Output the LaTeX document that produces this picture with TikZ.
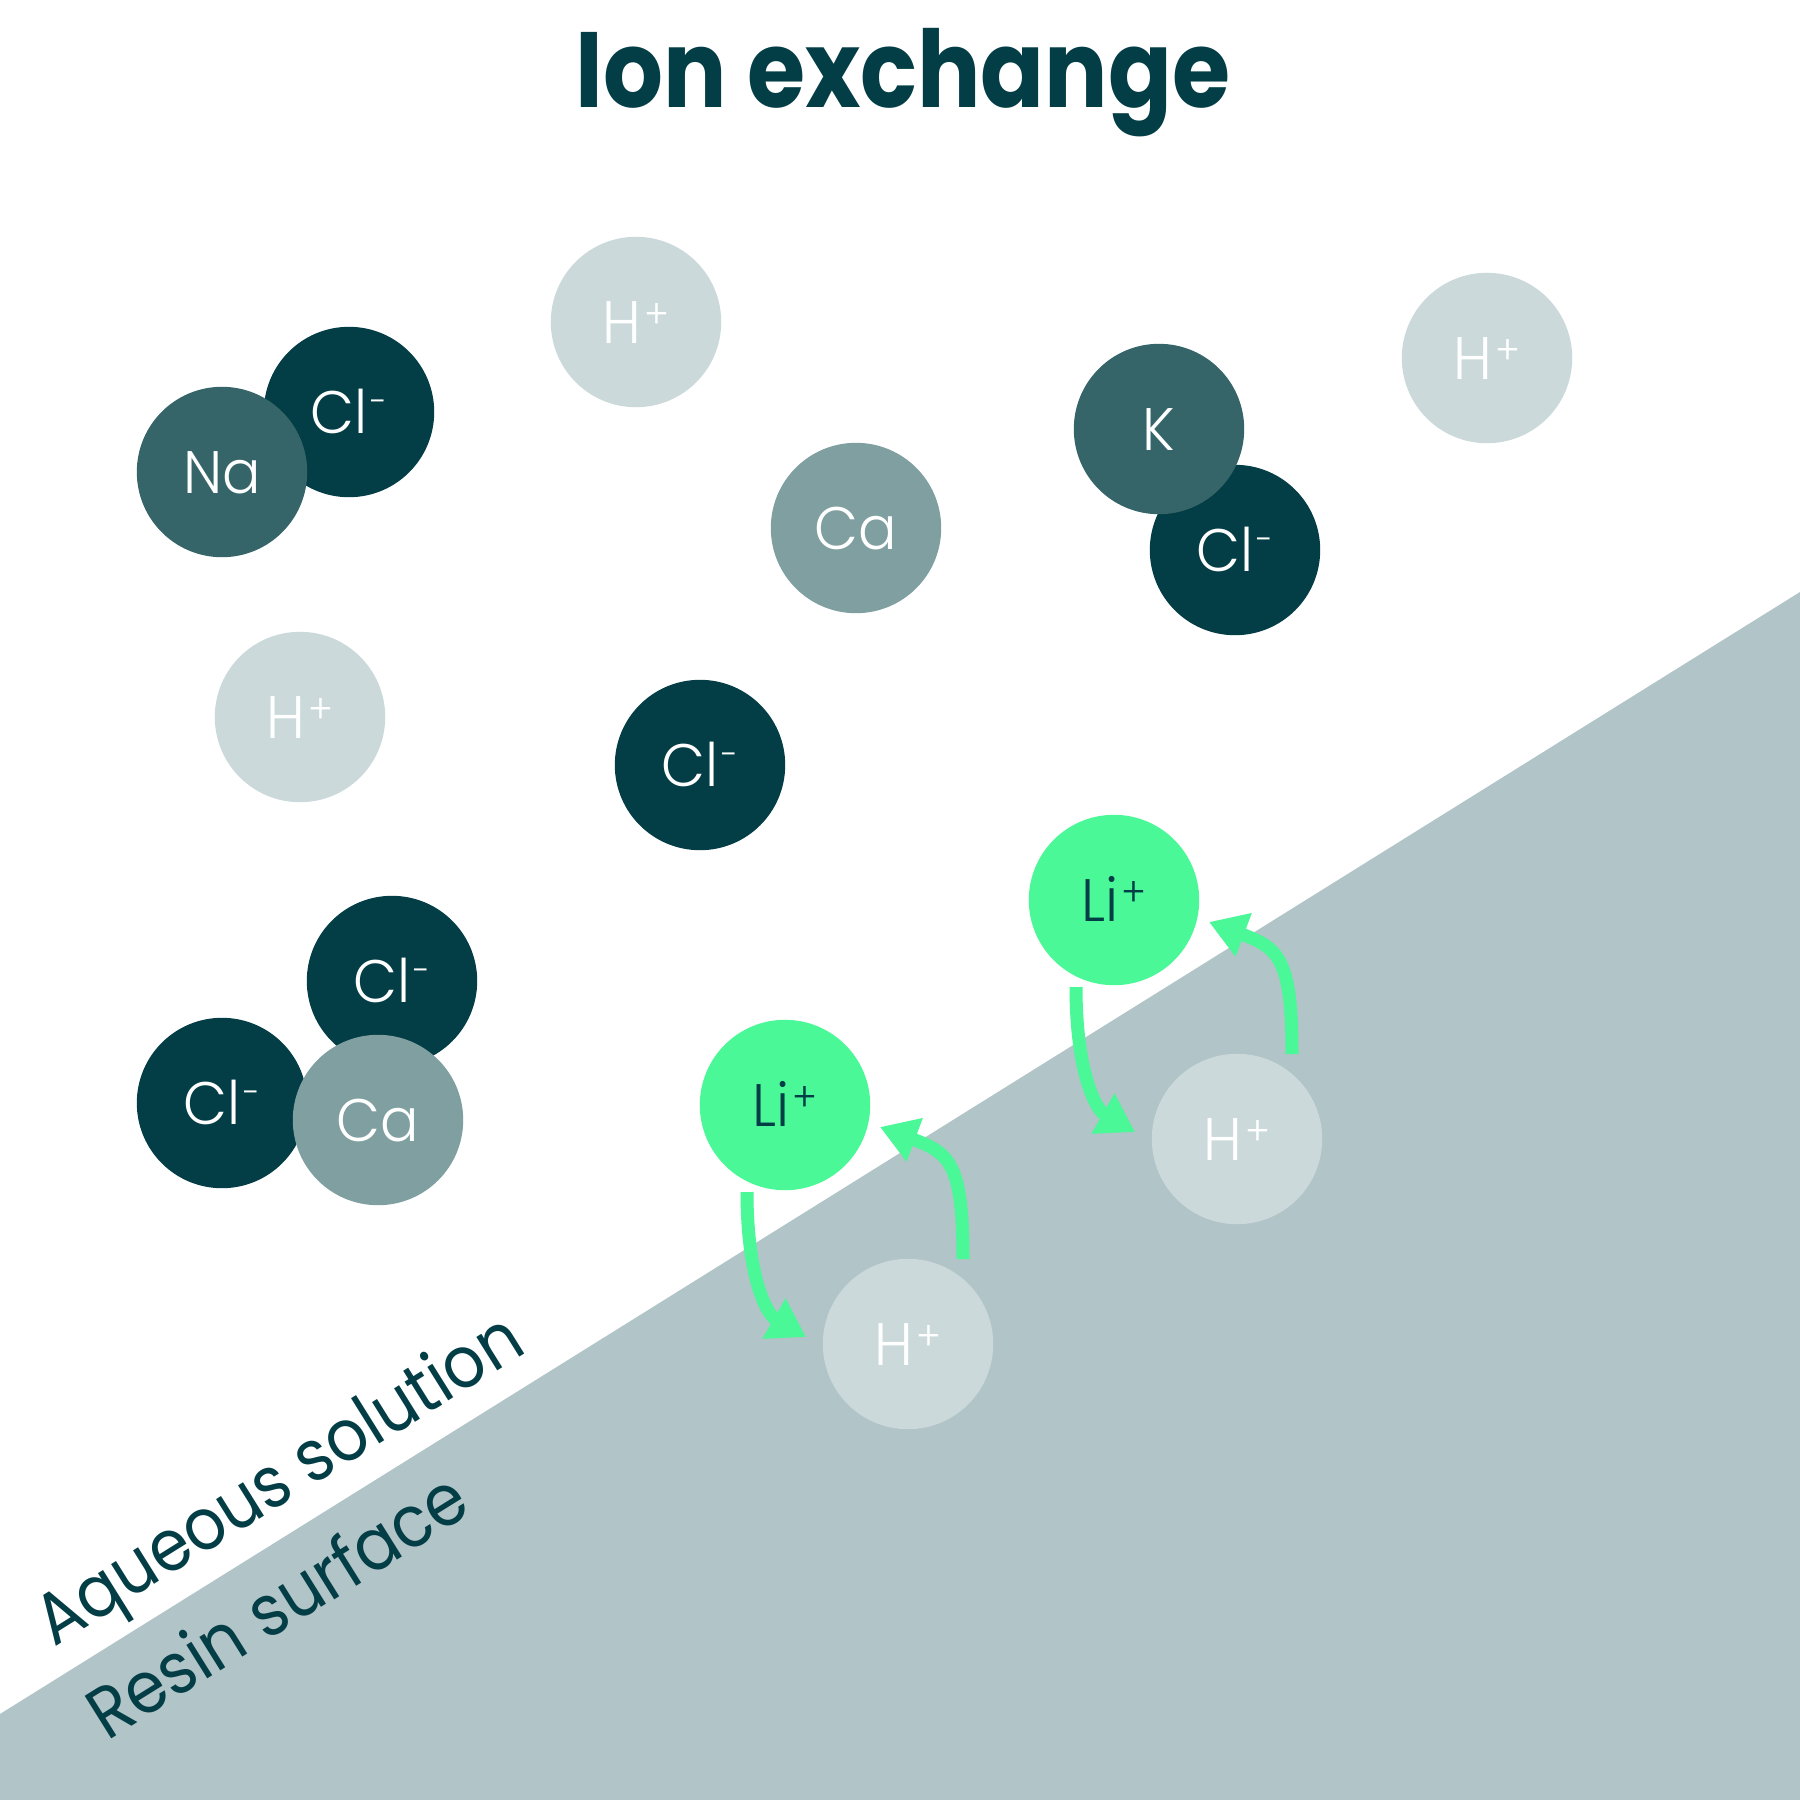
\documentclass[tikz,border=0pt]{standalone}
\usepackage{fontspec}
\setmainfont{Poppins}
\newfontfamily\lightfont[FakeStretch=0.95]{Poppins Light}
\newfontfamily\regfont[FakeStretch=0.9]{Poppins}
\usetikzlibrary{arrows.meta,calc}
\definecolor{cdark}{HTML}{033D45}
\definecolor{cmid}{HTML}{356569}
\definecolor{cca}{HTML}{7F9FA1}
\definecolor{chyd}{HTML}{CBD9DB}
\definecolor{cresin}{HTML}{B1C4C8}
\definecolor{cgreen}{HTML}{4AF898}
\newcommand{\chp}{\hspace{3pt}\raisebox{15pt}{\fontsize{40}{40}\selectfont +}}
\newcommand{\chm}{\hspace{3pt}\raisebox{20pt}{\fontsize{34}{34}\selectfont -}}
\tikzset{
  ion/.style={circle, minimum size=170.4pt, inner sep=0pt,
    font=\lightfont\fontsize{60}{60}\selectfont, text=white,
    text height=42pt, text depth=0pt},
  clion/.style={ion, fill=cdark},
  midion/.style={ion, fill=cmid},
  caion/.style={ion, fill=cca},
  hion/.style={ion, fill=chyd},
  liion/.style={ion, fill=cgreen, text=cdark},
  flow/.style={draw=cgreen, line width=13pt, line cap=butt,
    -{Triangle[length=37pt,width=44pt]}},
  region/.style={font=\regfont\fontsize{72}{72}\selectfont, text=cdark, rotate=32, inner sep=0pt}
}
\begin{document}
\begin{tikzpicture}[x=1pt,y=-1pt]
\useasboundingbox (0,0) rectangle (1800,1800);
\fill[white] (0,0) rectangle (1800,1800);
\fill[cresin] (0,1714) -- (1800,592) -- (1800,1800) -- (0,1800) -- cycle;

\node[font=\bfseries\fontsize{107}{110}\selectfont, text=cdark, anchor=base] (title) at (903,107) {\scalebox{0.88}[1]{Ion exchange}};

\node[clion] (cl1) at (349,412) {Cl\chm};
\node[midion] (na) at (222,472) {Na};
\node[hion] (h1) at (636,322) {H\chp};
\node[caion] (ca1) at (856,528) {Ca};
\node[clion] (cl2) at (1235,550) {Cl\chm};
\node[midion] (k) at (1159,429) {K};
\node[hion] (h2) at (1487,358) {H\chp};
\node[hion] (h3) at (300,717) {H\chp};
\node[clion] (cl3) at (700,765) {Cl\chm};
\node[clion] (cl4) at (392,981) {Cl\chm};
\node[clion] (cl5) at (222,1103) {Cl\chm};
\node[caion] (ca2) at (378,1120) {Ca};
\node[liion] (li1) at (1114,900) {Li\chp};
\node[liion] (li2) at (785,1105) {Li\chp};
\node[hion] (h4) at (1237,1139) {H\chp};
\node[hion] (h5) at (908,1344) {H\chp};

\draw[flow] ($(li1)+(-38,87)$) .. controls +(0,83) and +(-40,-23) .. ($(h4)+(-102,-7)$);
\draw[flow] ($(h4)+(55,-85)$) .. controls +(0,-95) and +(70,26) .. ($(li1)+(95,22)$);
\draw[flow] ($(li2)+(-38,87)$) .. controls +(0,83) and +(-40,-23) .. ($(h5)+(-102,-7)$);
\draw[flow] ($(h5)+(55,-85)$) .. controls +(0,-95) and +(70,26) .. ($(li2)+(95,22)$);

\node[region] (aq) at (282,1484) {Aqueous solution};
\node[region] (rs) at (276,1604) {Resin surface};
\end{tikzpicture}
\end{document}
